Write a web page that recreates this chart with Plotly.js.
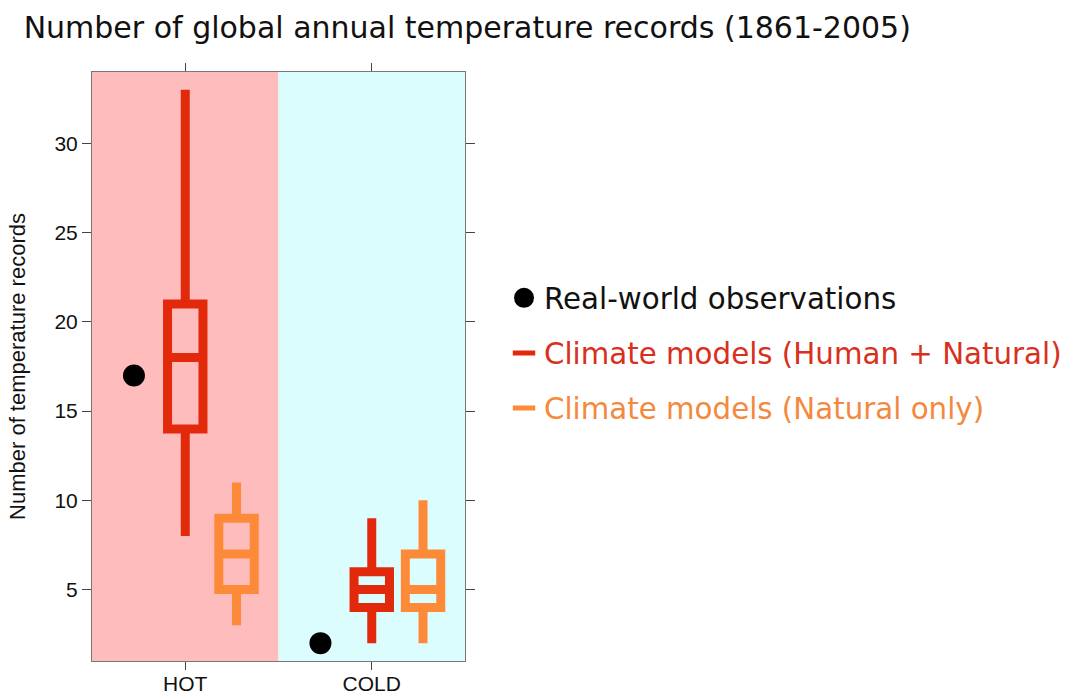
<!DOCTYPE html>
<html>
<head>
<meta charset="utf-8">
<script src="https://cdn.plot.ly/plotly-3.0.1.min.js"></script>
<style>html,body{margin:0;padding:0;background:#fff;}#chart{width:1074px;height:698px;}</style>
</head>
<body>
<div id="chart"></div>
<script>
// ---- data ----
const categories = ['HOT', 'COLD'];
const observations = [17, 2];
// Climate models (Human + Natural)
const humanLow = [8, 2];
const humanQ1 = [14, 4];
const humanMedian = [18, 5];
const humanQ3 = [21, 6];
const humanHigh = [33, 9];
// Climate models (Natural only)
const naturalLow = [3, 2];
const naturalQ1 = [5, 4];
const naturalMedian = [7, 5];
const naturalQ3 = [9, 7];
const naturalHigh = [11, 10];
const yTicks = [5, 10, 15, 20, 25, 30];

// ---- styling ----
const RED = '#e2290b';
const ORANGE = '#fd8a38';
const OFFSET = 0.275;
const pos = (off) => categories.map((c, i) => i + 1 + off);
const SANS = 'Liberation Sans, Arial, sans-serif';
const WIDE = 'DejaVu Sans, Liberation Sans, sans-serif';

function boxTrace(color, low, q1, med, q3, high, off) {
  return {
    type: 'box',
    x: pos(off),
    lowerfence: low, q1: q1, median: med, q3: q3, upperfence: high,
    width: 0.19,
    whiskerwidth: 0,
    fillcolor: 'rgba(0,0,0,0)',
    line: {color: color, width: 9},
    showlegend: false,
    hoverinfo: 'skip',
    boxpoints: false
  };
}

const traces = [
  {
    type: 'scatter', mode: 'markers',
    x: pos(-OFFSET), y: observations,
    marker: {color: '#000', size: 18, symbol: 'circle', line: {color: '#000', width: 4}},
    name: 'Real-world observations',
    legendgroup: 'a', showlegend: true
  },
  boxTrace(RED, humanLow, humanQ1, humanMedian, humanQ3, humanHigh, 0),
  boxTrace(ORANGE, naturalLow, naturalQ1, naturalMedian, naturalQ3, naturalHigh, OFFSET),
  {
    type: 'scatter', mode: 'markers', x: [null], y: [null],
    marker: {color: RED, size: 16, symbol: 'line-ew', line: {color: RED, width: 5}},
    name: '<span style="color:#d8301c">Climate models (Human + Natural)</span>',
    legendgroup: 'b', showlegend: true
  },
  {
    type: 'scatter', mode: 'markers', x: [null], y: [null],
    marker: {color: ORANGE, size: 16, symbol: 'line-ew', line: {color: ORANGE, width: 5}},
    name: '<span style="color:#f4893e">Climate models (Natural only)</span>',
    legendgroup: 'c', showlegend: true
  }
];

const layout = {
  width: 1074, height: 698,
  margin: {l: 92, r: 609, t: 72, b: 37, autoexpand: false},
  paper_bgcolor: '#ffffff',
  plot_bgcolor: '#ffffff',
  font: {family: SANS, color: '#111'},
  title: {
    text: 'Number of global annual temperature records (1861-2005)',
    font: {size: 30, color: '#111', family: WIDE},
    x: 0.022, xanchor: 'left', y: 1 - 27 / 698, yanchor: 'middle'
  },
  xaxis: {
    range: [0.5, 2.5],
    tickvals: pos(0), ticktext: categories,
    ticks: 'outside', ticklen: 8, tickcolor: '#444',
    showline: true, linecolor: '#777', linewidth: 1, mirror: 'ticks',
    showgrid: false, zeroline: false,
    tickfont: {size: 21, color: '#111'},
    ticklabelstandoff: -4
  },
  yaxis: {
    range: [1, 34],
    tickvals: yTicks,
    ticks: 'outside', ticklen: 9, tickcolor: '#444',
    showline: true, linecolor: '#777', linewidth: 1, mirror: 'ticks',
    showgrid: false, zeroline: false,
    tickfont: {size: 21, color: '#111'},
    title: {text: 'Number of temperature records', font: {size: 22, color: '#111'}, standoff: 22}
  },
  shapes: [
    {type: 'rect', xref: 'x', yref: 'paper', x0: 0.5, x1: 1.5, y0: 0, y1: 1, fillcolor: '#ffbcbc', line: {width: 0}, layer: 'below'},
    {type: 'rect', xref: 'x', yref: 'paper', x0: 1.5, x1: 2.5, y0: 0, y1: 1, fillcolor: '#dcfdfd', line: {width: 0}, layer: 'below'}
  ],
  showlegend: true,
  legend: {
    x: 1.1046, xanchor: 'left', y: 0.66, yanchor: 'top',
    font: {size: 29.3, color: '#111', family: WIDE},
    traceorder: 'grouped', tracegroupgap: 14,
    bgcolor: 'rgba(0,0,0,0)', itemwidth: 30
  }
};

Plotly.newPlot('chart', traces, layout, {displayModeBar: false, staticPlot: true});
</script>
</body>
</html>
